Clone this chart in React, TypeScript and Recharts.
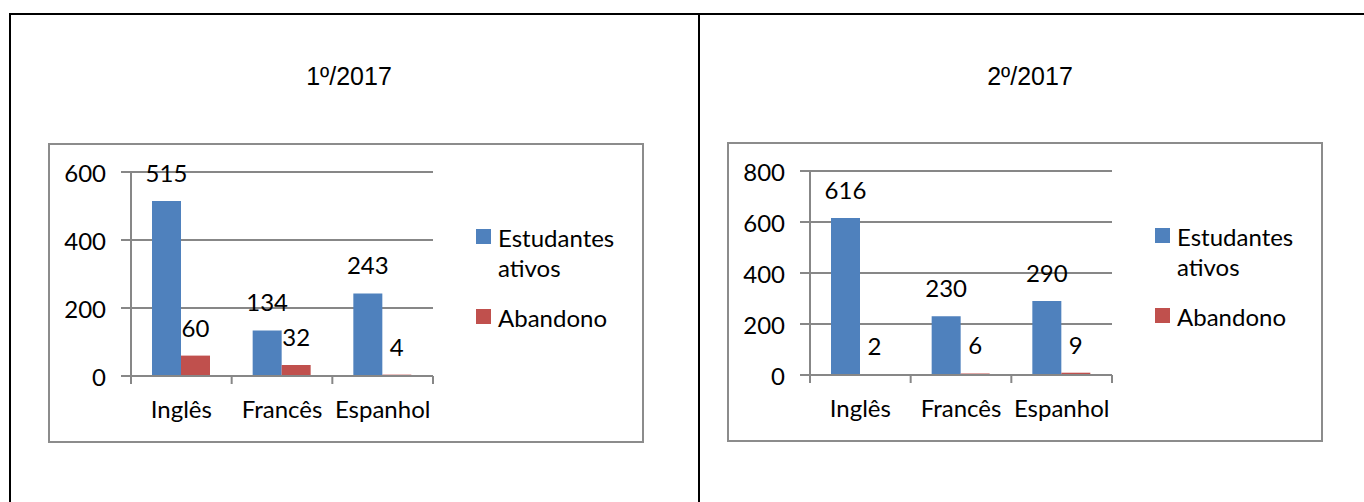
import React from 'react';
import { BarChart, Bar, XAxis, YAxis, CartesianGrid, LabelList } from 'recharts';

// Languages on the category axis
const categories = ['Inglês', 'Francês', 'Espanhol'];
const seriesNames = ['Estudantes ativos', 'Abandono'];
const seriesColors = ['#4F81BD', '#C0504D'];

// 1º/2017
const ativosSem1 = [515, 134, 243];
const abandonoSem1 = [60, 32, 4];
const ticksSem1 = [0, 200, 400, 600];

// 2º/2017
const ativosSem2 = [616, 230, 290];
const abandonoSem2 = [2, 6, 9];
const ticksSem2 = [0, 200, 400, 600, 800];

const CHART_W = 596;
const CHART_H = 300;
const MARGIN = { top: 29, right: 211, bottom: 27, left: 0 };
const Y_AXIS_W = 83;
const PLOT_W = CHART_W - MARGIN.right - MARGIN.left - Y_AXIS_W;

const AXIS = '#878787';
const FONT = 'Lato, "Open Sans", sans-serif';
const FONT_SIZE = 24;

const ValueTick = (props: any) => {
  const { x, y, payload } = props;
  return (
    <text x={x} y={y + 10} textAnchor="end" fill="#000" fontSize={FONT_SIZE} fontFamily={FONT}>
      {payload.value}
    </text>
  );
};

// category labels plus the tick marks sitting between categories
const CategoryTick = (props: any) => {
  const { x, y, payload, index } = props;
  const half = PLOT_W / categories.length / 2;
  return (
    <g>
      <line x1={x - half} y1={y} x2={x - half} y2={y + 8} stroke={AXIS} strokeWidth={2} />
      {index === categories.length - 1 && (
        <line x1={x + half} y1={y} x2={x + half} y2={y + 8} stroke={AXIS} strokeWidth={2} />
      )}
      <text x={x} y={y + 42} textAnchor="middle" fill="#000" fontSize={FONT_SIZE} fontFamily={FONT}>
        {payload.value}
      </text>
    </g>
  );
};

const LegendBox: React.FC<{ left: number; top: number }> = ({ left, top }) => (
  <div style={{ position: 'absolute', left, top, fontFamily: FONT, fontSize: FONT_SIZE, lineHeight: '30px' }}>
    {seriesNames.map((name, i) => (
      <div key={name} style={{ display: 'flex', alignItems: 'flex-start', marginBottom: 20 }}>
        <div style={{ width: 15, height: 15, background: seriesColors[i], marginTop: 6, marginRight: 7, flex: 'none' }} />
        <div style={{ width: 135 }}>{name}</div>
      </div>
    ))}
  </div>
);

const Panel: React.FC<{
  title: string;
  titleX: number;
  left: number;
  top: number;
  ativos: number[];
  abandono: number[];
  ticks: number[];
}> = ({ title, titleX, left, top, ativos, abandono, ticks }) => {
  const data = categories.map((c, i) => ({ name: c, ativos: ativos[i], abandono: abandono[i] }));
  return (
    <>
      <div
        style={{
          position: 'absolute',
          left: titleX - 100,
          width: 200,
          top: 61,
          textAlign: 'center',
          fontFamily: '"Liberation Sans", Arial, sans-serif',
          fontSize: 25,
          lineHeight: '30px',
        }}
      >
        {title}
      </div>
      <div
        style={{
          position: 'absolute',
          left,
          top,
          width: CHART_W,
          height: CHART_H,
          border: '2px solid #8c8c8c',
          boxSizing: 'border-box',
        }}
      />
      <div style={{ position: 'absolute', left, top }}>
        <BarChart width={CHART_W} height={CHART_H} data={data} margin={MARGIN} barGap={0}>
          <CartesianGrid vertical={false} stroke={AXIS} strokeWidth={2} />
          <XAxis
            dataKey="name"
            height={40}
            tickSize={0}
            tickMargin={0}
            tickLine={false}
            axisLine={{ stroke: AXIS, strokeWidth: 2 }}
            tick={<CategoryTick />}
            interval={0}
          />
          <YAxis
            width={Y_AXIS_W}
            domain={[0, ticks[ticks.length - 1]]}
            ticks={ticks}
            tickSize={10}
            tickMargin={15}
            tickLine={{ stroke: AXIS, strokeWidth: 2 }}
            axisLine={{ stroke: AXIS, strokeWidth: 2 }}
            tick={<ValueTick />}
          />
          <Bar dataKey="ativos" name={seriesNames[0]} fill={seriesColors[0]} barSize={29} isAnimationActive={false}>
            <LabelList dataKey="ativos" position="top" offset={19} fill="#000" fontSize={FONT_SIZE} fontFamily={FONT} />
          </Bar>
          <Bar dataKey="abandono" name={seriesNames[1]} fill={seriesColors[1]} barSize={29} isAnimationActive={false}>
            <LabelList dataKey="abandono" position="top" offset={19} fill="#000" fontSize={FONT_SIZE} fontFamily={FONT} />
          </Bar>
        </BarChart>
      </div>
      <LegendBox left={left + 428} top={top + 80} />
    </>
  );
};

export default function App() {
  return (
    <div style={{ position: 'absolute', left: 0, top: 0, width: 1364, height: 502, background: '#fff', overflow: 'hidden' }}>
      {/* table rules around the two cells */}
      <div style={{ position: 'absolute', left: 9, top: 13, width: 1355, height: 2, background: '#000' }} />
      <div style={{ position: 'absolute', left: 9, top: 13, width: 2, height: 489, background: '#000' }} />
      <div style={{ position: 'absolute', left: 698, top: 13, width: 2, height: 489, background: '#000' }} />

      <Panel title="1º/2017" titleX={349} left={48} top={143} ativos={ativosSem1} abandono={abandonoSem1} ticks={ticksSem1} />
      <Panel title="2º/2017" titleX={1030} left={727} top={142} ativos={ativosSem2} abandono={abandonoSem2} ticks={ticksSem2} />
    </div>
  );
}
